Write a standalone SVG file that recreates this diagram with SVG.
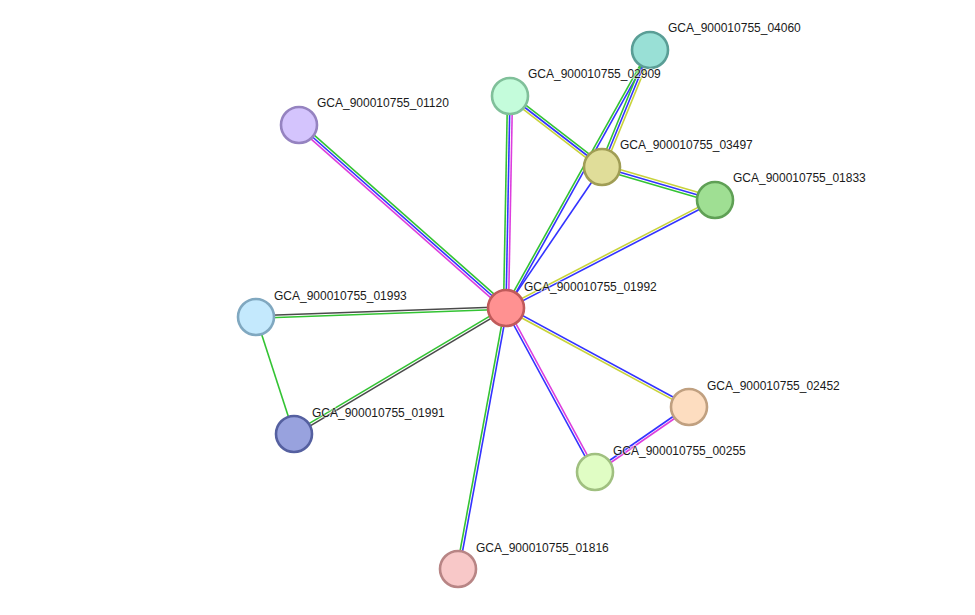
<svg xmlns="http://www.w3.org/2000/svg" width="975" height="615" viewBox="0 0 975 615">
<style>
.g{stroke:#33c333;stroke-width:1.6;fill:none}
.b{stroke:#3333ff;stroke-width:1.6;fill:none}
.m{stroke:#dd3ddd;stroke-width:1.6;fill:none}
.y{stroke:#c8d33a;stroke-width:1.6;fill:none}
.k{stroke:#4a4a4a;stroke-width:1.6;fill:none}
.node circle{stroke-width:2.6}
.lbl{font-family:"Liberation Sans",Arial,sans-serif;font-size:12px;fill:#1a1a1a;stroke:#ffffff;stroke-width:2;stroke-opacity:0.5;paint-order:stroke}
</style>
<rect width="975" height="615" fill="#ffffff"/>
<g id="connectors">
  <!-- 01992-01120 -->
  <g transform="translate(506,308) rotate(-138.52)">
    <line class="m" x1="0" y1="-2.5" x2="276.3" y2="-2.5"/>
    <line class="b" x1="0" y1="0" x2="276.3" y2="0"/>
    <line class="g" x1="0" y1="2.5" x2="276.3" y2="2.5"/>
  </g>
  <!-- 01992-02909 -->
  <g transform="translate(506,308) rotate(-88.92)">
    <line class="g" x1="0" y1="-2.5" x2="212" y2="-2.5"/>
    <line class="b" x1="0" y1="0" x2="212" y2="0"/>
    <line class="m" x1="0" y1="2.5" x2="212" y2="2.5"/>
  </g>
  <!-- 01992-04060 -->
  <g transform="translate(506,308) rotate(-60.83)">
    <line class="g" x1="0" y1="-1.25" x2="295.5" y2="-1.25"/>
    <line class="b" x1="0" y1="1.25" x2="295.5" y2="1.25"/>
  </g>
  <!-- 01992-03497 -->
  <line class="b" x1="506" y1="308" x2="602" y2="167"/>
  <!-- 03497-04060 -->
  <g transform="translate(602,167) rotate(-67.69)">
    <line class="g" x1="0" y1="-2.5" x2="126.5" y2="-2.5"/>
    <line class="b" x1="0" y1="0" x2="126.5" y2="0"/>
    <line class="y" x1="0" y1="2.5" x2="126.5" y2="2.5"/>
  </g>
  <!-- 03497-02909 -->
  <g transform="translate(602,167) rotate(-142.34)">
    <line class="y" x1="0" y1="-2.5" x2="116.2" y2="-2.5"/>
    <line class="b" x1="0" y1="0" x2="116.2" y2="0"/>
    <line class="g" x1="0" y1="2.5" x2="116.2" y2="2.5"/>
  </g>
  <!-- 03497-01833 -->
  <g transform="translate(602,167) rotate(16.28)">
    <line class="y" x1="0" y1="-2.5" x2="117.7" y2="-2.5"/>
    <line class="b" x1="0" y1="0" x2="117.7" y2="0"/>
    <line class="g" x1="0" y1="2.5" x2="117.7" y2="2.5"/>
  </g>
  <!-- 01992-01833 -->
  <g transform="translate(506,308) rotate(-27.33)">
    <line class="y" x1="0" y1="-1.25" x2="235.3" y2="-1.25"/>
    <line class="b" x1="0" y1="1.25" x2="235.3" y2="1.25"/>
  </g>
  <!-- 01992-01993 -->
  <g transform="translate(506,308) rotate(177.94)">
    <line class="g" x1="0" y1="-1.25" x2="250.2" y2="-1.25"/>
    <line class="k" x1="0" y1="1.25" x2="250.2" y2="1.25"/>
  </g>
  <!-- 01992-01991 -->
  <g transform="translate(506,308) rotate(149.27)">
    <line class="k" x1="0" y1="-1.25" x2="246.6" y2="-1.25"/>
    <line class="g" x1="0" y1="1.25" x2="246.6" y2="1.25"/>
  </g>
  <!-- 01993-01991 -->
  <line class="g" x1="256" y1="317" x2="294" y2="434"/>
  <!-- 01992-02452 -->
  <g transform="translate(506,308) rotate(28.42)">
    <line class="b" x1="0" y1="-1.25" x2="208.1" y2="-1.25"/>
    <line class="y" x1="0" y1="1.25" x2="208.1" y2="1.25"/>
  </g>
  <!-- 01992-00255 -->
  <g transform="translate(506,308) rotate(61.51)">
    <line class="m" x1="0" y1="-1.25" x2="186.6" y2="-1.25"/>
    <line class="b" x1="0" y1="1.25" x2="186.6" y2="1.25"/>
  </g>
  <!-- 02452-00255 -->
  <g transform="translate(689,407) rotate(145.34)">
    <line class="m" x1="0" y1="-1.25" x2="114.3" y2="-1.25"/>
    <line class="b" x1="0" y1="1.25" x2="114.3" y2="1.25"/>
  </g>
  <!-- 01992-01816 -->
  <g transform="translate(506,308) rotate(100.42)">
    <line class="b" x1="0" y1="-1.25" x2="265.4" y2="-1.25"/>
    <line class="g" x1="0" y1="1.25" x2="265.4" y2="1.25"/>
  </g>
</g>
<g id="n04060" class="node"><circle cx="650" cy="50" r="18" fill="#99e0d6" stroke="#5a9e96"/><text class="lbl" x="668" y="32">GCA_900010755_04060</text></g>
<g id="n02909" class="node"><circle cx="510" cy="96" r="18" fill="#c4fcdb" stroke="#80c09a"/><text class="lbl" x="528" y="78">GCA_900010755_02909</text></g>
<g id="n01120" class="node"><circle cx="299" cy="125" r="18" fill="#d4c4fd" stroke="#9583c0"/><text class="lbl" x="317" y="107">GCA_900010755_01120</text></g>
<g id="n03497" class="node"><circle cx="602" cy="167" r="18" fill="#e0dd99" stroke="#a09d55"/><text class="lbl" x="620" y="149">GCA_900010755_03497</text></g>
<g id="n01833" class="node"><circle cx="715" cy="200" r="18" fill="#9fdf93" stroke="#5fa055"/><text class="lbl" x="733" y="182">GCA_900010755_01833</text></g>
<g id="n01992" class="node"><circle cx="506" cy="308" r="18" fill="#ff9191" stroke="#c05a5a"/><text class="lbl" x="524" y="291">GCA_900010755_01992</text></g>
<g id="n01993" class="node"><circle cx="256" cy="317" r="18" fill="#c4e9fd" stroke="#80a8c0"/><text class="lbl" x="274" y="300">GCA_900010755_01993</text></g>
<g id="n01991" class="node"><circle cx="294" cy="434" r="18" fill="#98a2de" stroke="#5560a0"/><text class="lbl" x="312" y="417">GCA_900010755_01991</text></g>
<g id="n02452" class="node"><circle cx="689" cy="407" r="18" fill="#fdddc0" stroke="#c0a080"/><text class="lbl" x="707" y="390">GCA_900010755_02452</text></g>
<g id="n00255" class="node"><circle cx="595" cy="472" r="18" fill="#e0fdc4" stroke="#a0c080"/><text class="lbl" x="613" y="455">GCA_900010755_00255</text></g>
<g id="n01816" class="node"><circle cx="458" cy="569" r="18" fill="#f8c8c8" stroke="#b88585"/><text class="lbl" x="476" y="552">GCA_900010755_01816</text></g>
</svg>
